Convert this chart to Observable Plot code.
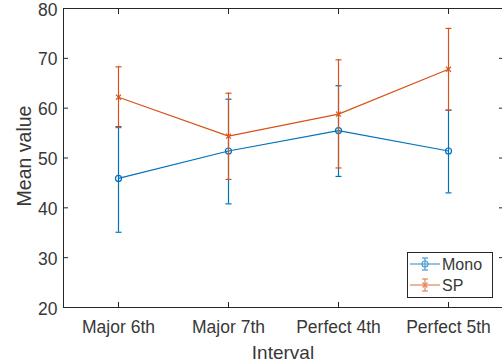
<!DOCTYPE html>
<html><head><meta charset="utf-8">
<script src="https://cdn.jsdelivr.net/npm/d3@7"></script>
<script src="https://cdn.jsdelivr.net/npm/@observablehq/plot@0.6"></script>
<style>
body{margin:0;background:#fff;font-family:"Liberation Sans",Arial,sans-serif;}
#wrap{position:relative;width:502px;height:362px;overflow:hidden;}
#legend{position:absolute;left:407px;top:252px;}
svg{overflow:visible;}
</style></head><body><div id="wrap"></div>
<script>
const intervals = ["Major 6th", "Major 7th", "Perfect 4th", "Perfect 5th"];
const monoMean = [45.9, 51.4, 55.5, 51.4];
const monoLow  = [35.1, 40.8, 46.3, 43.0];
const monoHigh = [56.3, 61.8, 64.5, 59.6];
const spMean = [62.2, 54.4, 58.8, 67.8];
const spLow  = [56.1, 45.7, 48.0, 59.6];
const spHigh = [68.3, 63.0, 69.7, 76.0];
const yTicks = [20, 30, 40, 50, 60, 70, 80];
const seriesNames = ["Mono", "SP"];
const xTitle = "Interval", yTitle = "Mean value";

const axisColor = "#262626";
const textColor = "#383838";
const blue = "#0072BD", orange = "#D95319";
const font = "Liberation Sans, Arial, sans-serif";

const xIdx = intervals.map((_, i) => i + 1);
const mkRows = (mean, low, high) => intervals.map((name, i) => ({i: i + 1, name, mean: mean[i], low: low[i], high: high[i]}));
const monoRows = mkRows(monoMean, monoLow, monoHigh);
const spRows = mkRows(spMean, spLow, spHigh);

const cap = {draw(ctx, size) { const r = Math.sqrt(size / Math.PI); ctx.moveTo(-r, 0); ctx.lineTo(r, 0); }};

function seriesMarks(rows, color, symbol, r) {
  return [
    Plot.ruleX(rows, {x: "i", y1: "low", y2: "high", stroke: color, strokeWidth: 1.2}),
    Plot.dot(rows, {x: "i", y: "low", symbol: cap, r: 3, stroke: color, strokeWidth: 1.2}),
    Plot.dot(rows, {x: "i", y: "high", symbol: cap, r: 3, stroke: color, strokeWidth: 1.2}),
    Plot.line(rows, {x: "i", y: "mean", stroke: color, strokeWidth: 1.2}),
    Plot.dot(rows, {x: "i", y: "mean", symbol, r, stroke: color, fill: "none", strokeWidth: 1.2})
  ];
}

const chart = Plot.plot({
  width: 502, height: 362,
  marginLeft: 63, marginRight: -1, marginTop: 8, marginBottom: 55,
  style: {fontFamily: font, color: axisColor, background: "white"},
  x: {domain: [0.5, 4.5]},
  y: {domain: [20, 80]},
  marks: [
    Plot.frame({stroke: axisColor, strokeWidth: 1}),
    Plot.axisX({anchor: "bottom", ticks: xIdx, tickSize: -5, tickFormat: () => "", label: null, stroke: axisColor}),
    Plot.axisX({anchor: "top", ticks: xIdx, tickSize: -5, tickFormat: () => "", label: null, stroke: axisColor}),
    Plot.axisY({anchor: "left", ticks: yTicks, tickSize: -5, tickFormat: () => "", label: null, stroke: axisColor}),
    Plot.axisY({anchor: "right", ticks: yTicks, tickSize: -5, tickFormat: () => "", label: null, stroke: axisColor}),
    Plot.axisX({anchor: "bottom", ticks: xIdx, tickSize: 0, tickPadding: 13, tickFormat: (d) => intervals[d - 1], fontSize: 17.5, fill: textColor, label: null}),
    Plot.axisY({anchor: "left", ticks: yTicks, tickSize: 0, tickPadding: 6, dy: 1.5, fontSize: 17.5, fill: textColor, label: null}),
    ...seriesMarks(monoRows, blue, "circle", 3),
    ...seriesMarks(spRows, orange, "times", 2.4)
  ]
});
document.getElementById("wrap").appendChild(chart);

const svg = d3.select(chart);
svg.append("text")
  .attr("transform", `translate(31,156) rotate(-90)`)
  .attr("text-anchor", "middle")
  .attr("font-size", 19.5).attr("font-family", font).attr("fill", textColor)
  .text(yTitle);
svg.append("text")
  .attr("x", 283).attr("y", 359)
  .attr("text-anchor", "middle")
  .attr("font-size", 19).attr("font-family", font).attr("fill", textColor)
  .text(xTitle);

// legend
const leg = d3.select("#wrap").append("svg").attr("id", "legend").attr("width", 86).attr("height", 46);
leg.append("rect").attr("x", 0.5).attr("y", 0.5).attr("width", 85).attr("height", 45).attr("fill", "white").attr("stroke", axisColor).attr("stroke-width", 1);
[[seriesNames[0], blue, "circle"], [seriesNames[1], orange, "times"]].forEach(([name, color, sym], k) => {
  const cy = 12 + k * 21;
  const g = leg.append("g").attr("stroke", color).attr("fill", "none").attr("stroke-width", 1.2).attr("opacity", 0.7);
  g.append("line").attr("x1", 3).attr("x2", 33).attr("y1", cy).attr("y2", cy);
  g.append("line").attr("x1", 18).attr("x2", 18).attr("y1", cy - 6).attr("y2", cy + 6);
  g.append("line").attr("x1", 15).attr("x2", 21).attr("y1", cy - 6).attr("y2", cy - 6);
  g.append("line").attr("x1", 15).attr("x2", 21).attr("y1", cy + 6).attr("y2", cy + 6);
  if (sym === "circle") g.append("circle").attr("cx", 18).attr("cy", cy).attr("r", 3);
  else g.append("path").attr("d", `M15.5,${cy-2.5}L20.5,${cy+2.5}M15.5,${cy+2.5}L20.5,${cy-2.5}`);
  leg.append("text").attr("x", 35).attr("y", cy + 6).attr("font-size", 16).attr("font-family", font).attr("fill", textColor).text(name);
});
</script></body></html>
